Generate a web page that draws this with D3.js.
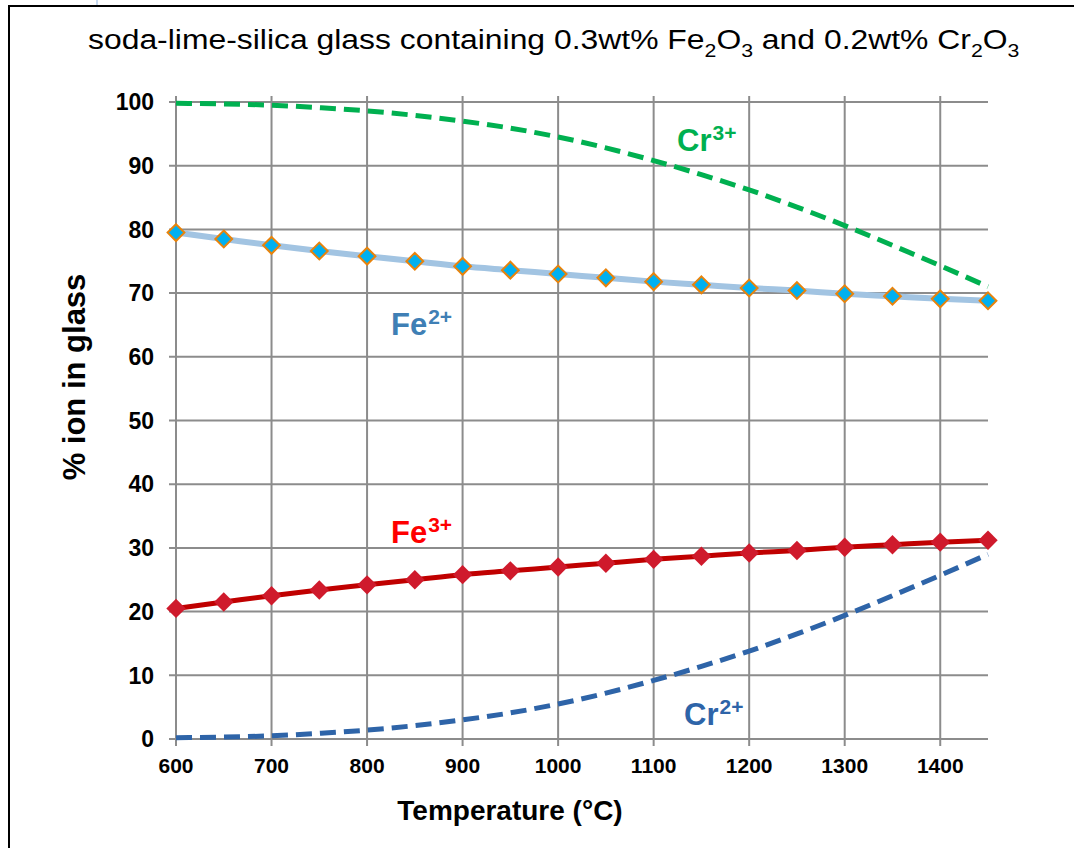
<!DOCTYPE html>
<html>
<head>
<meta charset="utf-8">
<script src="https://cdn.jsdelivr.net/npm/d3@7"></script>
<style>
  body { margin: 0; background: #fff; }
  svg { display: block; font-family: "Liberation Sans", Arial, sans-serif; }
</style>
</head>
<body>
<div id="chart"></div>
<script>
// temperatures (°C)
const temps = [600, 650, 700, 750, 800, 850, 900, 950, 1000, 1050, 1100, 1150, 1200, 1250, 1300, 1350, 1400, 1450];
const fe2 = [79.5, 78.5, 77.5, 76.6, 75.8, 75.0, 74.2, 73.6, 73.0, 72.4, 71.8, 71.3, 70.8, 70.4, 69.9, 69.5, 69.1, 68.8];
const fe3 = [20.5, 21.5, 22.5, 23.4, 24.2, 25.0, 25.8, 26.4, 27.0, 27.6, 28.2, 28.7, 29.2, 29.6, 30.1, 30.5, 30.9, 31.2];
const cr3 = [99.8, 99.7, 99.5, 99.1, 98.6, 97.9, 97.0, 95.9, 94.5, 92.8, 90.8, 88.6, 86.2, 83.5, 80.6, 77.5, 74.3, 71.0];
const cr2 = [0.2, 0.3, 0.5, 0.9, 1.4, 2.1, 3.0, 4.1, 5.5, 7.2, 9.2, 11.4, 13.8, 16.5, 19.4, 22.5, 25.7, 29.0];
const xTicks = [600, 700, 800, 900, 1000, 1100, 1200, 1300, 1400];
const yTicks = [0, 10, 20, 30, 40, 50, 60, 70, 80, 90, 100];

const W = 1074, H = 848;
const svg = d3.select('#chart').append('svg').attr('width', W).attr('height', H);

// frame bits
svg.append('line').attr('x1', 9).attr('x2', 9).attr('y1', 6).attr('y2', H)
  .attr('stroke', '#000').attr('stroke-width', 2);
svg.append('line').attr('x1', 8).attr('x2', W).attr('y1', 6).attr('y2', 6)
  .attr('stroke', '#000').attr('stroke-width', 2);
svg.append('line').attr('x1', 97).attr('x2', 97).attr('y1', 0).attr('y2', 5)
  .attr('stroke', '#8db3e2').attr('stroke-width', 1);

const x = d3.scaleLinear().domain([600, 1450]).range([176, 988]);
const y = d3.scaleLinear().domain([0, 100]).range([739, 102]);

// grid
const grid = svg.append('g').attr('stroke', '#8c8c8c').attr('stroke-width', 2);
grid.selectAll('.h').data(yTicks).join('line')
  .attr('x1', x(600) - 7).attr('x2', x(1450))
  .attr('y1', d => y(d)).attr('y2', d => y(d));
grid.selectAll('.v').data(xTicks).join('line')
  .attr('x1', d => x(d)).attr('x2', d => x(d))
  .attr('y1', y(100) - 6).attr('y2', y(0) + 7);

// tick labels
svg.append('g').selectAll('text').data(yTicks).join('text')
  .attr('x', x(600) - 22).attr('y', d => y(d)).attr('dy', '0.36em')
  .attr('text-anchor', 'end').attr('font-size', 23).attr('font-weight', 'bold')
  .text(d => d);
svg.append('g').selectAll('text').data(xTicks).join('text')
  .attr('x', d => x(d)).attr('y', y(0) + 34)
  .attr('text-anchor', 'middle').attr('font-size', 21).attr('font-weight', 'bold')
  .text(d => d);

// axis titles
svg.append('text').attr('x', 510).attr('y', 820).attr('text-anchor', 'middle')
  .attr('font-size', 28).attr('font-weight', 'bold').text('Temperature (°C)');
svg.append('text').attr('transform', 'translate(85,377) rotate(-90)').attr('text-anchor', 'middle')
  .attr('font-size', 31).attr('font-weight', 'bold').text('% ion in glass');

// title (stretched to the reference width)
const title = svg.append('text').attr('x', 0).attr('y', 0).attr('font-size', 27);
title.append('tspan').text('soda-lime-silica glass containing 0.3wt% Fe');
title.append('tspan').attr('dy', 8).attr('font-size', 18).text('2');
title.append('tspan').attr('dy', -8).text('O');
title.append('tspan').attr('dy', 8).attr('font-size', 18).text('3');
title.append('tspan').attr('dy', -8).text(' and 0.2wt% Cr');
title.append('tspan').attr('dy', 8).attr('font-size', 18).text('2');
title.append('tspan').attr('dy', -8).text('O');
title.append('tspan').attr('dy', 8).attr('font-size', 18).text('3');
const tw = title.node().getBBox().width;
title.attr('transform', `translate(88,49) scale(${932 / tw},1.05)`);

const pts = vals => temps.map((t, i) => [t, vals[i]]);
const line = d3.line().x(d => x(d[0])).y(d => y(d[1])).curve(d3.curveMonotoneX);

// Cr curves (dashed)
svg.append('path').attr('d', line(pts(cr3))).attr('fill', 'none')
  .attr('stroke', '#00b050').attr('stroke-width', 5).attr('stroke-dasharray', '16 8');
svg.append('path').attr('d', line(pts(cr2))).attr('fill', 'none')
  .attr('stroke', '#2e64a8').attr('stroke-width', 5).attr('stroke-dasharray', '16 8');

// Fe curves
svg.append('path').attr('d', line(pts(fe3))).attr('fill', 'none')
  .attr('stroke', '#c00000').attr('stroke-width', 5);
svg.append('path').attr('d', line(pts(fe2))).attr('fill', 'none')
  .attr('stroke', '#a2c4e2').attr('stroke-width', 6);

const diamond = d3.symbol().type(d3.symbolDiamond2);
svg.append('g').selectAll('path').data(pts(fe3)).join('path')
  .attr('d', diamond.size(240)())
  .attr('transform', d => `translate(${x(d[0])},${y(d[1])})`)
  .attr('fill', '#cf1a2c');
svg.append('g').selectAll('path').data(pts(fe2)).join('path')
  .attr('d', diamond.size(180)())
  .attr('transform', d => `translate(${x(d[0])},${y(d[1])})`)
  .attr('fill', '#00b0f0').attr('stroke', '#e8830c').attr('stroke-width', 2);

// series labels
function ionLabel(tx, ty, base, sup, color) {
  const t = svg.append('text').attr('x', tx).attr('y', ty).attr('fill', color)
    .attr('font-size', 31).attr('font-weight', 'bold');
  t.append('tspan').text(base);
  t.append('tspan').attr('dx', 1).attr('dy', -11).attr('font-size', 21).text(sup);
}
ionLabel(677, 151, 'Cr', '3+', '#00b050');
ionLabel(391, 335, 'Fe', '2+', '#3f7fb5');
ionLabel(391, 543, 'Fe', '3+', '#ff0000');
ionLabel(684, 725, 'Cr', '2+', '#2e64a8');
</script>
</body>
</html>
